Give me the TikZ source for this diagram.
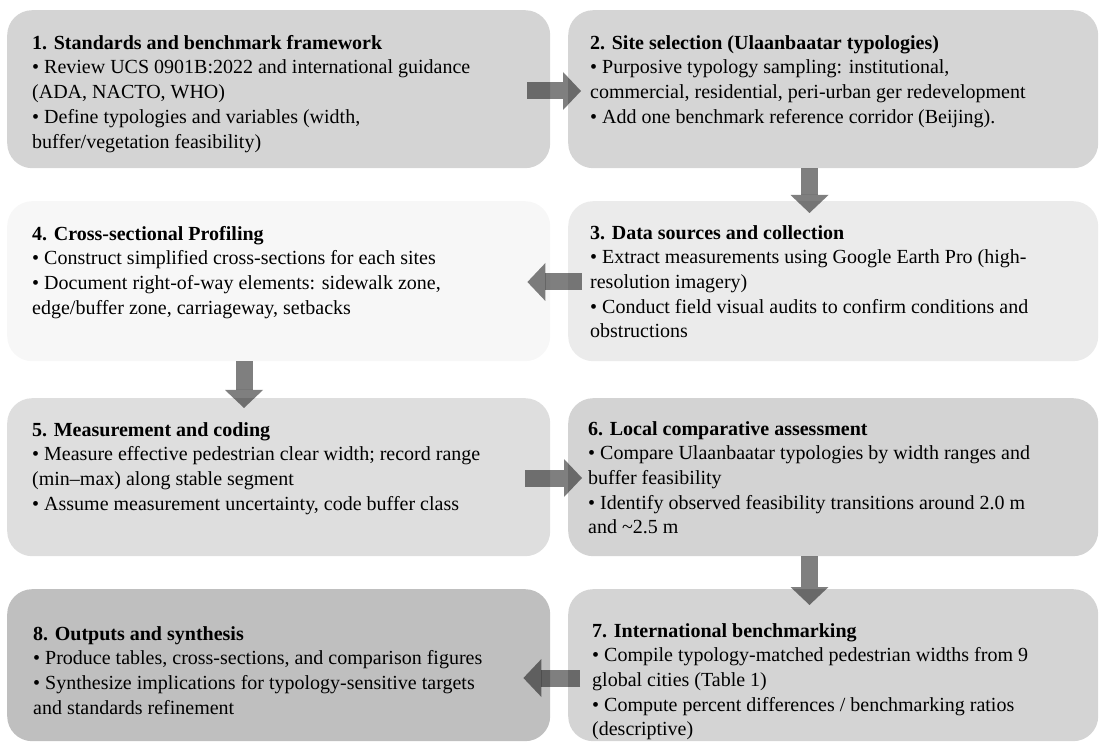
\documentclass[tikz,border=0pt]{standalone}
\usepackage{fontspec}
\setmainfont{Liberation Serif}
\usetikzlibrary{calc,arrows.meta}
\definecolor{cA}{HTML}{D4D4D4}
\definecolor{cB}{HTML}{D5D5D5}
\definecolor{cC}{HTML}{EBEBEB}
\definecolor{cD}{HTML}{F7F7F7}
\definecolor{cE}{HTML}{DEDEDE}
\definecolor{cF}{HTML}{D3D3D3}
\definecolor{cG}{HTML}{D4D4D4}
\definecolor{cH}{HTML}{BFBFBF}
\tikzset{
  box/.style={rounded corners=25pt, draw=none, inner sep=0pt, anchor=north west},
  leftbox/.style={box, minimum width=543pt},
  rightbox/.style={box, minimum width=530pt},
  txt/.style={anchor=north west, inner sep=0pt, align=left, font=\fontsize{20}{24.7}\selectfont},
  flow/.style={line width=17pt, line cap=butt, black, opacity=0.5, -{Triangle[length=18pt,width=38pt,line width=0pt]}}
}
\begin{document}
\begin{tikzpicture}[x=1pt,y=-1pt]
\useasboundingbox (0,0) rectangle (1101,743);
% boxes
\node[leftbox, fill=cA, minimum height=158pt] (b1) at (7,10) {};
\node[rightbox, fill=cB, minimum height=158pt] (b2) at (568,10) {};
\node[leftbox, fill=cD, minimum height=160pt] (b4) at (7,201) {};
\node[rightbox, fill=cC, minimum height=160pt] (b3) at (568,201) {};
\node[leftbox, fill=cE, minimum height=158pt] (b5) at (7,398) {};
\node[rightbox, fill=cF, minimum height=158pt] (b6) at (568,398) {};
\node[leftbox, fill=cH, minimum height=152pt] (b8) at (7,589) {};
\node[rightbox, fill=cG, minimum height=152pt] (b7) at (568,589) {};
% texts
\node[txt] (t1) at ($(b1.north west)+(25,25)$) {\textbf{1. Standards and benchmark framework}\\
• Review UCS 0901B:2022 and international guidance\\
(ADA, NACTO, WHO)\\
• Define typologies and variables (width,\\
buffer/vegetation feasibility)};
\node[txt] (t2) at ($(b2.north west)+(22,25)$) {\textbf{2. Site selection (Ulaanbaatar typologies)}\\
• Purposive typology sampling: institutional,\\
commercial, residential, peri-urban ger redevelopment\\
• Add one benchmark reference corridor (Beijing).};
\node[txt] (t3) at ($(b3.north west)+(22,24)$) {\textbf{3. Data sources and collection}\\
• Extract measurements using Google Earth Pro (high-\\
resolution imagery)\\
• Conduct field visual audits to confirm conditions and\\
obstructions};
\node[txt] (t4) at ($(b4.north west)+(25,25)$) {\textbf{4. Cross-sectional Profiling}\\
• Construct simplified cross-sections for each sites\\
• Document right-of-way elements: sidewalk zone,\\
edge/buffer zone, carriageway, setbacks};
\node[txt] (t5) at ($(b5.north west)+(25,24)$) {\textbf{5. Measurement and coding}\\
• Measure effective pedestrian clear width; record range\\
(min–max) along stable segment\\
• Assume measurement uncertainty, code buffer class};
\node[txt] (t6) at ($(b6.north west)+(20,23)$) {\textbf{6. Local comparative assessment}\\
• Compare Ulaanbaatar typologies by width ranges and\\
buffer feasibility\\
• Identify observed feasibility transitions around 2.0 m\\
and \textasciitilde 2.5 m};
\node[txt] (t7) at ($(b7.north west)+(24,34)$) {\textbf{7. International benchmarking}\\
• Compile typology-matched pedestrian widths from 9\\
global cities (Table 1)\\
• Compute percent differences / benchmarking ratios\\
(descriptive)};
\node[txt] (t8) at ($(b8.north west)+(26,37)$) {\textbf{8. Outputs and synthesis}\\
• Produce tables, cross-sections, and comparison figures\\
• Synthesize implications for typology-sensitive targets\\
and standards refinement};
% arrows
\draw[flow] ($(b1.north east)+(-23,81)$) -- ($(b2.north west)+(13,81)$);
\draw[flow] ($(b2.south west)+(241.5,0)$) -- ($(b3.north west)+(241.5,12)$);
\draw[flow] ($(b3.north west)+(14,81)$) -- ($(b4.north east)+(-23,81)$);
\draw[flow] ($(b4.south west)+(237,0)$) -- ($(b5.north west)+(237,10)$);
\draw[flow] ($(b5.north east)+(-25,80)$) -- ($(b6.north west)+(14,80)$);
\draw[flow] ($(b6.south west)+(241.5,0)$) -- ($(b7.north west)+(241.5,16)$);
\draw[flow] ($(b7.north west)+(12,89)$) -- ($(b8.north east)+(-27,89)$);
\end{tikzpicture}
\end{document}
